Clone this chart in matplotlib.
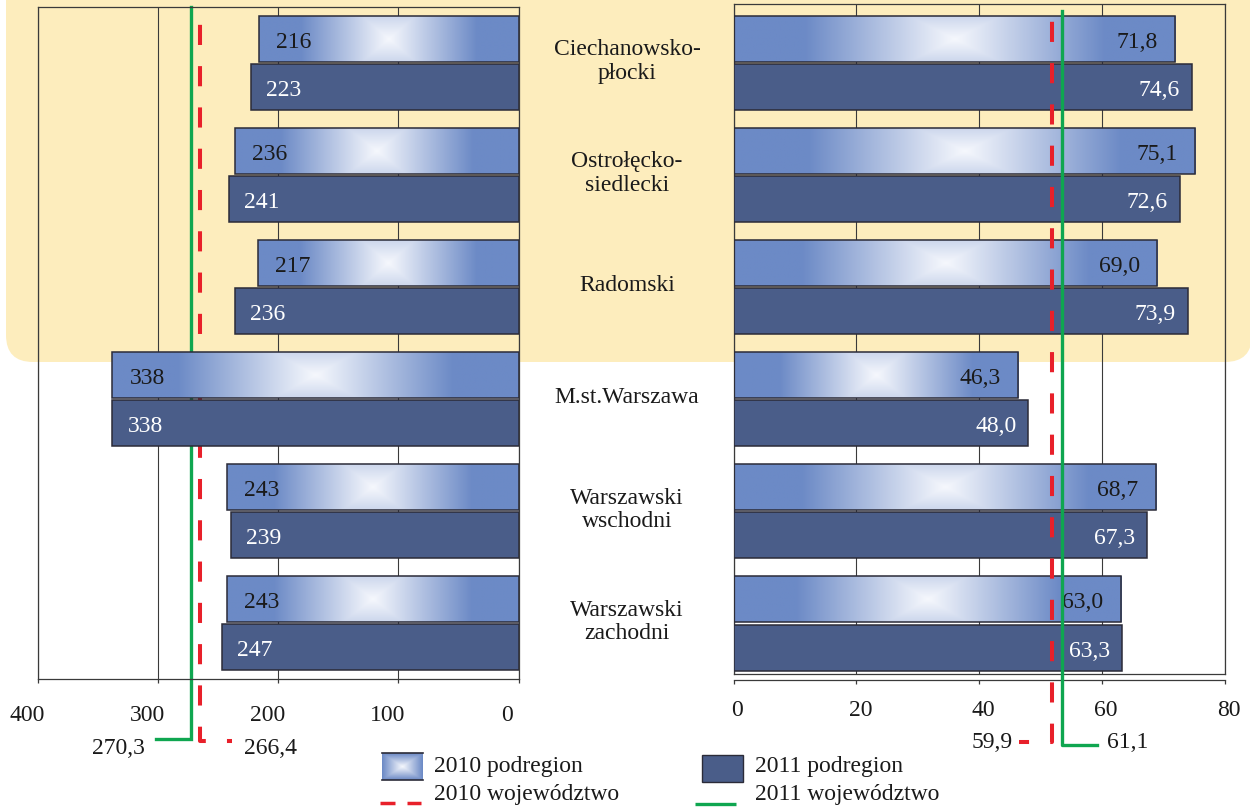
import numpy as np
import matplotlib
matplotlib.use("Agg")
import matplotlib.pyplot as plt
from matplotlib.patches import FancyBboxPatch, Rectangle
from matplotlib.transforms import IdentityTransform, ScaledTranslation, blended_transform_factory

# ---------------- data ----------------
categories = ["Ciechanowsko-\npłocki", "Ostrołęcko-\nsiedlecki", "Radomski",
              "M.st.Warszawa", "Warszawski\nwschodni", "Warszawski\nzachodni"]
left_2010 = [216, 236, 217, 338, 243, 243]
left_2011 = [223, 241, 236, 338, 239, 247]
right_2010 = [71.8, 75.1, 69.0, 46.3, 68.7, 63.0]
right_2011 = [74.6, 72.6, 73.9, 48.0, 67.3, 63.3]
left_ticks = [400, 300, 200, 100, 0]
right_ticks = [0, 20, 40, 60, 80]
# voivodeship reference lines: [left panel, right panel]
woj_2010_labels = ["266,4", "59,9"]
woj_2011_labels = ["270,3", "61,1"]
# positions of the reference lines as drawn on each axis scale in the picture
woj_2010_drawn = [265.2, 51.8]
woj_2011_drawn = [272.9, 53.5]
legend_labels = ["2010 podregion", "2010 województwo", "2011 podregion", "2011 województwo"]

# ---------------- style ----------------
W, H = 1250, 812
plt.rcParams['font.family'] = ['Liberation Serif', 'DejaVu Serif']
FS = 17
C_BLUE = np.array([108, 138, 198]) / 255
C_WHITE = np.array([246, 248, 253]) / 255
C_DARK = '#4A5D89'
C_EDGE = '#2B2B38'
C_RED = '#E8202A'
C_GREEN = '#0FA650'
C_GRID = '#3a3a3a'
BAR_H = 0.41
OFF = 0.215

fig = plt.figure(figsize=(W / 100, H / 100), dpi=100)
dpi_t = fig.dpi_scale_trans


def fbox(x0, ytop, x1, ybot):
    return [x0 / W, 1 - ybot / H, (x1 - x0) / W, (ybot - ytop) / H]


# background (pixel coordinates)
bg = fig.add_axes([0, 0, 1, 1], zorder=0)
bg.set_xlim(0, W)
bg.set_ylim(H, 0)
bg.axis('off')
bg.add_patch(FancyBboxPatch((6, -60), 1246, 423,
                            boxstyle='round,pad=0,rounding_size=27',
                            fc='#FDEDBD', ec='none'))

axL = fig.add_axes(fbox(38, 7.6, 518.5, 680), zorder=1)
axR = fig.add_axes(fbox(733.5, 4.5, 1225, 675), zorder=1)
for ax in (axL, axR):
    ax.patch.set_alpha(0)


def gradient(nx=300, ny=40, flat=0.68, vk=0.3, legend=False):
    u = np.linspace(-1, 1, nx)
    v = np.linspace(-1, 1, ny)
    U, V = np.meshgrid(u, v)
    if legend:
        t = np.maximum(np.abs(U), np.abs(V))
    else:
        t = np.maximum(np.abs(U) / flat, np.abs(V) * vk)
    t = np.clip(t, 0, 1)[..., None]
    return C_WHITE * (1 - t) + C_BLUE * t


y = np.arange(len(categories))

for ax, v10, v11 in ((axL, left_2010, left_2011), (axR, right_2010, right_2011)):
    for yi, val in zip(y, v10):
        yc = yi - OFF
        ax.imshow(gradient(), extent=(0, val, yc + BAR_H / 2, yc - BAR_H / 2),
                  aspect='auto', interpolation='bilinear', zorder=2)
    ax.barh(y - OFF, v10, height=BAR_H, fc='none', ec=C_EDGE, lw=1.1, zorder=3)
    ax.barh(y + OFF, v11, height=BAR_H, color=C_DARK, ec=C_EDGE, lw=1.1, zorder=3)

axL.set_xlim(400, 0)
axL.set_ylim(5.5, -0.5)
axR.set_xlim(0, 80)
axR.set_ylim(5.451, -0.531)

for ax, ticks in ((axL, left_ticks), (axR, right_ticks)):
    ax.set_xticks(ticks)
    ax.set_yticks([])
    ax.grid(axis='x', color=C_GRID, lw=0.8, zorder=0)
    ax.set_axisbelow(True)
    for s in ax.spines.values():
        s.set_color(C_GRID)
        s.set_linewidth(0.9)
    ax.tick_params(axis='x', direction='out', length=3, width=0.9, color=C_GRID,
                   labelbottom=False)

axR.spines['bottom'].set_position(('outward', 4))
axR.plot([0, 1], [0, 0], transform=axR.transAxes, color=C_GRID, lw=0.9, clip_on=False, zorder=1)

# tick labels (drawn manually to reproduce their offsets)
for ax, ticks, dx, base in ((axL, left_ticks, -11, 41), (axR, right_ticks, 4, 41)):
    tr = blended_transform_factory(ax.transData, ax.transAxes)
    for t in ticks:
        ax.text(t, 0, str(t), transform=tr + ScaledTranslation(dx / 100, -base / 100, dpi_t),
                ha='center', va='baseline', fontsize=FS, color='#1a1a1a', clip_on=False)


def fmt_r(v):
    return f"{v:.1f}".replace('.', ',')


# bar value labels
for yi, a, b in zip(y, left_2010, left_2011):
    axL.text(a, yi - OFF, str(a), transform=axL.transData + ScaledTranslation(17 / 100, -8 / 100, dpi_t),
             ha='left', va='baseline', fontsize=FS, color='#1a1a1a', zorder=4)
    axL.text(b, yi + OFF, str(b), transform=axL.transData + ScaledTranslation(15 / 100, -8 / 100, dpi_t),
             ha='left', va='baseline', fontsize=FS, color='white', zorder=4)
for yi, a, b in zip(y, right_2010, right_2011):
    axR.text(a, yi - OFF, fmt_r(a), transform=axR.transData + ScaledTranslation(-17 / 100, -8 / 100, dpi_t),
             ha='right', va='baseline', fontsize=FS, color='#1a1a1a', zorder=4)
    axR.text(b, yi + OFF, fmt_r(b), transform=axR.transData + ScaledTranslation(-12 / 100, -8 / 100, dpi_t),
             ha='right', va='baseline', fontsize=FS, color='white', zorder=4)

# category labels in the middle
for yi, cat in zip(y, categories):
    ypix = H - axL.transData.transform((0, yi))[1]
    bg.text(627, ypix - 2, cat, ha='center', va='center', multialignment='center',
            fontsize=FS, linespacing=1.15, color='#1a1a1a', zorder=5)


# voivodeship reference lines (L-shaped, with labels below the axes)
def px(ax, v):
    return ax.transData.transform((v, 0))[0]


def disp(pts):
    return [p[0] for p in pts], [H - p[1] for p in pts]


RED_LW = 2.9
GREEN_LW = 2.4
# left panel (lines pass behind the bars)
xg = px(axL, woj_2011_drawn[0])
xs, ys = disp([(xg - 35, 740), (xg, 740), (xg, 7.6)])
axL.plot(xs, ys, transform=IdentityTransform(), color=C_GREEN, lw=GREEN_LW,
         clip_on=False, zorder=1.5, solid_joinstyle='miter')
xr = px(axL, woj_2010_drawn[0])
xs, ys = disp([(xr + 32, 742), (xr, 742), (xr, 7.6)])
axL.plot(xs, ys, transform=IdentityTransform(), color=C_RED, lw=RED_LW,
         linestyle=(3.75, (5.0, 5.25)), clip_on=False, zorder=1.5, solid_joinstyle='miter')
axL.text(xg - 46, H - 754, woj_2011_labels[0], transform=IdentityTransform(),
         ha='right', va='baseline', fontsize=FS, color='#1a1a1a', clip_on=False)
axL.text(xr + 44, H - 754, woj_2010_labels[0], transform=IdentityTransform(),
         ha='left', va='baseline', fontsize=FS, color='#1a1a1a', clip_on=False)

# right panel (lines over the bars)
xr = px(axR, woj_2010_drawn[1])
xs, ys = disp([(xr - 33, 743), (xr, 743), (xr, 8)])
axR.plot(xs, ys, transform=IdentityTransform(), color=C_RED, lw=RED_LW,
         linestyle=(2.5, (5.0, 5.25)), clip_on=False, zorder=5)
xg = px(axR, woj_2011_drawn[1])
xs, ys = disp([(xg + 35, 746), (xg, 746), (xg, 12)])
axR.plot(xs, ys, transform=IdentityTransform(), color=C_GREEN, lw=GREEN_LW,
         clip_on=False, zorder=5)
axR.text(xr - 39, H - 748, woj_2010_labels[1], transform=IdentityTransform(),
         ha='right', va='baseline', fontsize=FS, color='#1a1a1a', clip_on=False)
axR.text(xg + 45, H - 748, woj_2011_labels[1], transform=IdentityTransform(),
         ha='left', va='baseline', fontsize=FS, color='#1a1a1a', clip_on=False)

# legend (pixel coordinates)
bg.imshow(gradient(nx=60, ny=40, legend=True), extent=(382, 423, 781, 754),
          aspect='auto', interpolation='bilinear', zorder=3)
bg.plot([382, 423], [754, 754], color=C_EDGE, lw=1.2, zorder=4)
bg.plot([382, 423], [781, 781], color=C_EDGE, lw=1.2, zorder=4)
bg.set_xlim(0, W)
bg.set_ylim(H, 0)
bg.text(434, 767, legend_labels[0], ha='left', va='center', fontsize=FS, color='#1a1a1a')
bg.plot([380, 395], [804, 804], color=C_RED, lw=2.5, solid_capstyle='butt')
bg.plot([407, 421], [804, 804], color=C_RED, lw=2.5, solid_capstyle='butt')
bg.text(434, 795, legend_labels[1], ha='left', va='center', fontsize=FS, color='#1a1a1a')
bg.add_patch(Rectangle((702, 756), 41, 27, fc=C_DARK, ec=C_EDGE, lw=1.0, zorder=3))
bg.text(755, 767, legend_labels[2], ha='left', va='center', fontsize=FS, color='#1a1a1a')
bg.plot([695, 736], [805, 805], color=C_GREEN, lw=2.4, solid_capstyle='butt')
bg.text(755, 795, legend_labels[3], ha='left', va='center', fontsize=FS, color='#1a1a1a')

fig.savefig('out.png', dpi=100)
